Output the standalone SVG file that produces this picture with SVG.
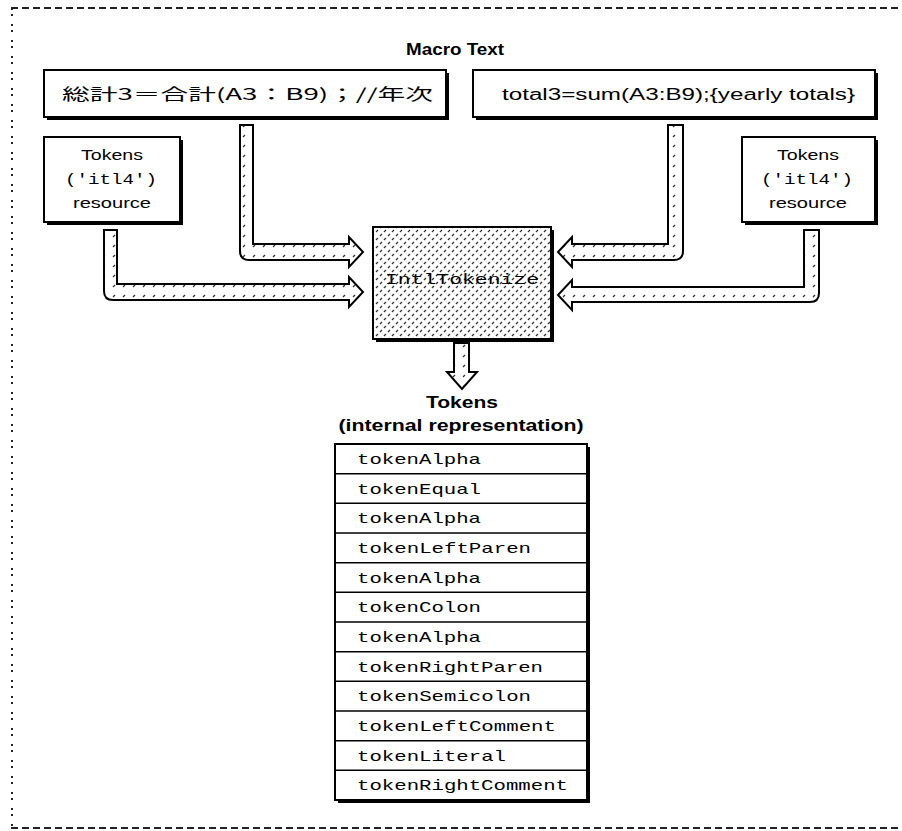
<svg xmlns="http://www.w3.org/2000/svg" width="902" height="831" viewBox="0 0 902 831">
<style>
.box{fill:#fff;stroke:#000;stroke-width:2}
.shadow{fill:#000}
.lbl{font-family:"Liberation Sans",Arial,sans-serif;font-size:15px;fill:#000;text-anchor:middle}
.lmono{font-family:"Liberation Mono","Courier New",monospace;font-size:15px;fill:#000;text-anchor:middle}
.bold{font-family:"Liberation Sans",Arial,sans-serif;font-size:16px;font-weight:bold;fill:#000;text-anchor:middle}
.mono{font-family:"Liberation Mono","Courier New",monospace;font-size:15px;fill:#000}
.arrow{fill:url(#dots);stroke:#000;stroke-width:2;stroke-linejoin:miter}
.row{stroke:#000;stroke-width:1.5}
</style>
<defs>
<pattern id="hatch" width="8" height="8" patternUnits="userSpaceOnUse">
<rect width="8" height="8" fill="#fff"/>
<path d="M0,8 L2,6 M4,4 L6,2 M-1,1 L0,0 M8,8 L9,7" stroke="#333" stroke-width="1.3"/>
</pattern>
<pattern id="dots" width="10" height="10" patternUnits="userSpaceOnUse">
<rect width="10" height="10" fill="#fff"/>
<path d="M3,7 L5,5" stroke="#333" stroke-width="1.3"/>
</pattern>
</defs>

<g id="frame" fill="none" stroke="#222" stroke-width="2">
<line x1="11" y1="8" x2="902" y2="8" stroke-dasharray="7 4"/>
<line x1="12" y1="8" x2="12" y2="828" stroke-dasharray="2 4 2 8"/>
<line x1="11" y1="828" x2="902" y2="828" stroke-dasharray="7 4"/>
</g>

<text class="bold" x="455" y="55" textLength="98" lengthAdjust="spacingAndGlyphs">Macro Text</text>

<g id="macro-jp">
<rect class="shadow" x="47" y="73" width="402" height="47"/>
<rect class="box" x="44" y="70" width="402" height="47"/>
<text x="62" y="100" font-family="'Noto Sans CJK JP','Liberation Sans',sans-serif" font-size="16" textLength="371" lengthAdjust="spacingAndGlyphs">総計3＝合計(A3：B9)；//年次</text>
</g>

<g id="macro-en">
<rect class="shadow" x="476" y="73" width="402" height="47"/>
<rect class="box" x="473" y="70" width="402" height="47"/>
<text x="502" y="100" font-family="'Liberation Sans',Arial,sans-serif" font-size="16" textLength="353" lengthAdjust="spacingAndGlyphs">total3=sum(A3:B9);{yearly totals}</text>
</g>

<g id="tokens-left">
<rect class="shadow" x="47" y="140" width="136" height="85"/>
<rect class="box" x="44" y="137" width="136" height="85"/>
<text class="lbl" x="112" y="160" textLength="62" lengthAdjust="spacingAndGlyphs">Tokens</text>
<text class="lmono" x="111" y="184" textLength="92" lengthAdjust="spacingAndGlyphs">('itl4')</text>
<text class="lbl" x="112" y="208" textLength="78" lengthAdjust="spacingAndGlyphs">resource</text>
</g>

<g id="tokens-right">
<rect class="shadow" x="745" y="140" width="133" height="85"/>
<rect class="box" x="742" y="137" width="133" height="85"/>
<text class="lbl" x="808" y="160" textLength="62" lengthAdjust="spacingAndGlyphs">Tokens</text>
<text class="lmono" x="807" y="184" textLength="92" lengthAdjust="spacingAndGlyphs">('itl4')</text>
<text class="lbl" x="808" y="208" textLength="78" lengthAdjust="spacingAndGlyphs">resource</text>
</g>

<g id="intltokenize">
<rect class="shadow" x="376" y="230" width="178" height="112"/>
<rect x="373" y="227" width="178" height="112" fill="url(#hatch)" stroke="#000" stroke-width="2"/>
<text x="462" y="284" font-family="'Liberation Mono','Courier New',monospace" font-size="15" text-anchor="middle" textLength="154" lengthAdjust="spacingAndGlyphs" fill="#000">IntlTokenize</text>
</g>

<g id="connectors">
<path class="arrow" d="M240,125 H253 V244 H349 V237 L363,252 L349,267 V260 H249 Q240,260 240,251 Z"/>
<path class="arrow" d="M104,230 H117 V284 H349 V277 L363,292 L349,307 V300 H113 Q104,300 104,291 Z"/>
<path class="arrow" d="M683,125 H668 V244 H572 V237 L558,252 L572,267 V260 H674 Q683,260 683,251 Z"/>
<path class="arrow" d="M819,230 H804 V287 H572 V280 L558,295 L572,310 V302 H810 Q819,302 819,293 Z"/>
<path class="arrow" d="M454,343 H469 V372 H477 L462,389 L447,372 H454 Z"/>
</g>

<text class="bold" x="462" y="408" textLength="72" lengthAdjust="spacingAndGlyphs">Tokens</text>
<text class="bold" x="461" y="431" textLength="245" lengthAdjust="spacingAndGlyphs">(internal representation)</text>

<g id="token-table">
<rect class="shadow" x="338" y="447" width="252" height="356"/>
<rect class="box" x="335" y="444" width="252" height="356"/>
<g class="row">
<line x1="335" y1="473.7" x2="587" y2="473.7"/>
<line x1="335" y1="503.3" x2="587" y2="503.3"/>
<line x1="335" y1="533" x2="587" y2="533"/>
<line x1="335" y1="562.7" x2="587" y2="562.7"/>
<line x1="335" y1="592.3" x2="587" y2="592.3"/>
<line x1="335" y1="622" x2="587" y2="622"/>
<line x1="335" y1="651.7" x2="587" y2="651.7"/>
<line x1="335" y1="681.3" x2="587" y2="681.3"/>
<line x1="335" y1="711" x2="587" y2="711"/>
<line x1="335" y1="740.7" x2="587" y2="740.7"/>
<line x1="335" y1="770.3" x2="587" y2="770.3"/>
</g>
<g lengthAdjust="spacingAndGlyphs">
<text class="mono" x="357" y="464" textLength="124" lengthAdjust="spacingAndGlyphs">tokenAlpha</text>
<text class="mono" x="357" y="494" textLength="124" lengthAdjust="spacingAndGlyphs">tokenEqual</text>
<text class="mono" x="357" y="523" textLength="124" lengthAdjust="spacingAndGlyphs">tokenAlpha</text>
<text class="mono" x="357" y="553" textLength="174" lengthAdjust="spacingAndGlyphs">tokenLeftParen</text>
<text class="mono" x="357" y="583" textLength="124" lengthAdjust="spacingAndGlyphs">tokenAlpha</text>
<text class="mono" x="357" y="612" textLength="124" lengthAdjust="spacingAndGlyphs">tokenColon</text>
<text class="mono" x="357" y="642" textLength="124" lengthAdjust="spacingAndGlyphs">tokenAlpha</text>
<text class="mono" x="357" y="672" textLength="186" lengthAdjust="spacingAndGlyphs">tokenRightParen</text>
<text class="mono" x="357" y="701" textLength="174" lengthAdjust="spacingAndGlyphs">tokenSemicolon</text>
<text class="mono" x="357" y="731" textLength="199" lengthAdjust="spacingAndGlyphs">tokenLeftComment</text>
<text class="mono" x="357" y="761" textLength="149" lengthAdjust="spacingAndGlyphs">tokenLiteral</text>
<text class="mono" x="357" y="790" textLength="211" lengthAdjust="spacingAndGlyphs">tokenRightComment</text>
</g>
</g>
</svg>
